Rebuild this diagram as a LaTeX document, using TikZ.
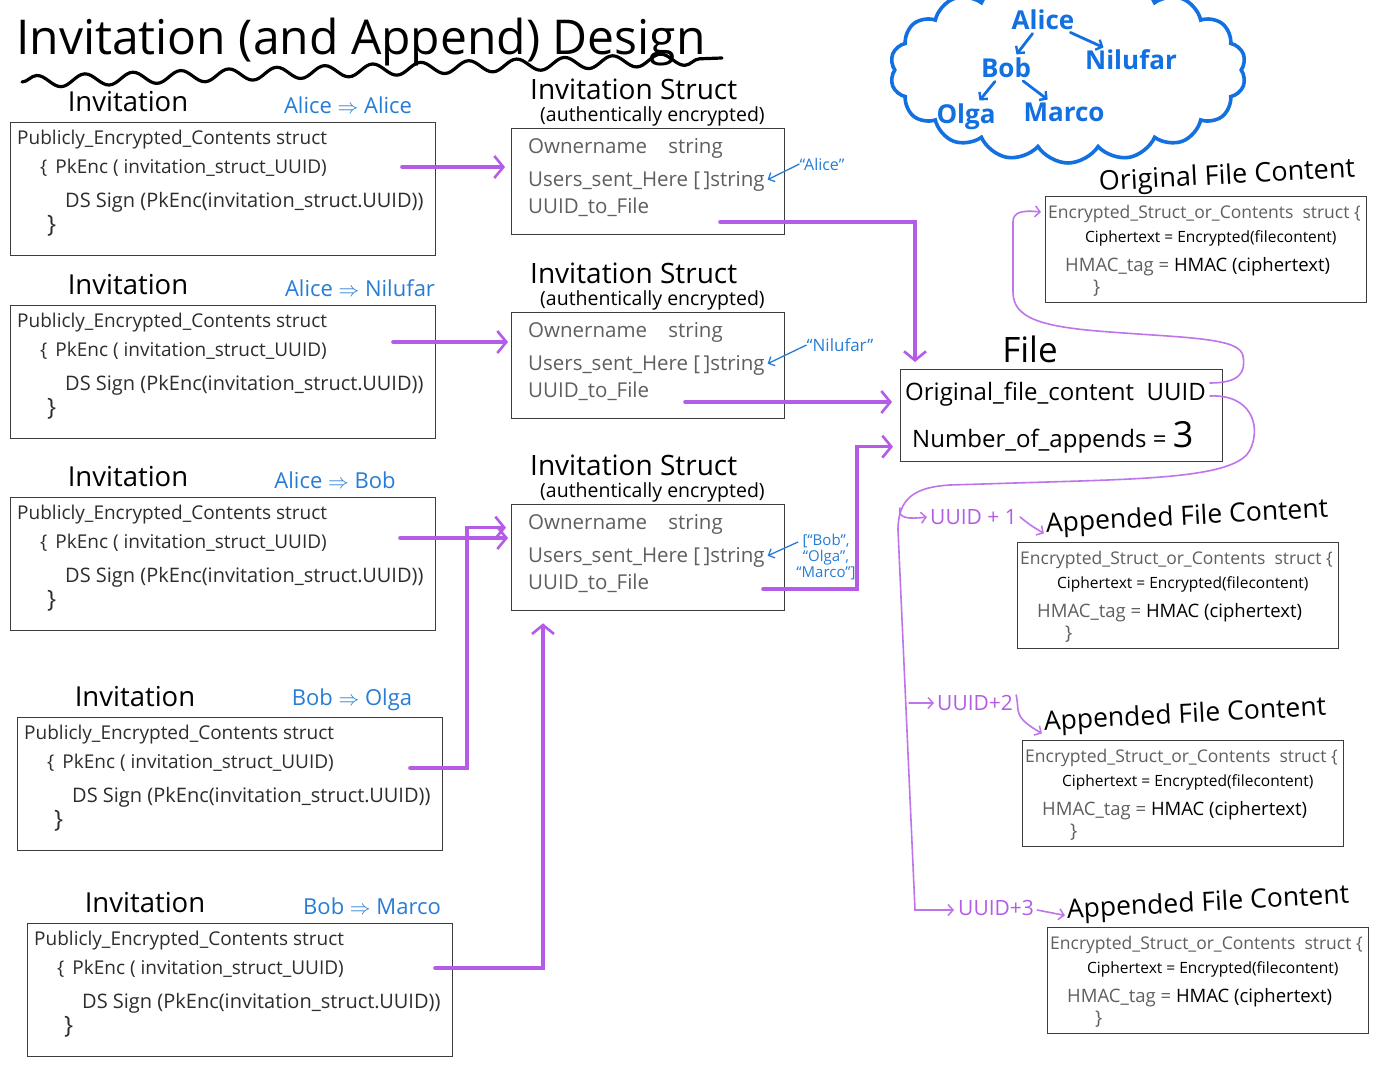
\documentclass[tikz,border=0pt]{standalone}
\usepackage{fontspec}
\setmainfont{Open Sans}
\usetikzlibrary{arrows.meta,shapes.symbols,decorations.pathmorphing,calc}
\definecolor{purp}{RGB}{180,92,232}
\definecolor{blu}{RGB}{38,125,215}
\definecolor{cblu}{RGB}{18,112,225}
\definecolor{gtxt}{RGB}{95,95,95}
\definecolor{dtxt}{RGB}{45,45,45}
\definecolor{boxc}{RGB}{60,60,60}
\newcommand{\fs}[1]{\fontsize{#1}{#1}\selectfont}
\tikzset{
  x=1pt, y=-1pt,
  box/.style={draw=boxc, line width=1.3pt, anchor=north west, inner sep=0pt},
  txt/.style={anchor=west, inner sep=0pt},
  hd/.style={inner sep=0pt, text=black},
  bl/.style={inner sep=0pt, text=blu},
  pl/.style={inner sep=0pt, text=purp},
  plink/.style={draw=purp, line width=3.6pt, line cap=round,
    -{Straight Barb[length=9pt,width=22pt,line width=2.6pt]}},
  pthin/.style={draw=purp!85, line width=1.6pt, line cap=round},
  ptip/.style={-{Straight Barb[length=5pt,width=11pt,line width=1.5pt]}},
  barrow/.style={draw=blu, line width=1.3pt, -{Straight Barb[length=5pt,width=10pt]}},
  carrow/.style={draw=cblu, line width=2.8pt, line cap=round,
    -{Straight Barb[length=5pt,width=11pt,line width=2.4pt]}}
}
\begin{document}
\begin{tikzpicture}
\useasboundingbox (0,0) rectangle (1396,1079);
\fill[white] (0,0) rectangle (1396,1079);

% ---------- title ----------
\node[hd, anchor=west, font=\fs{48}] (title) at (16,42) {Invitation (and Append) Design};
\draw[line width=3.2pt, line cap=round, decorate,
  decoration={snake, amplitude=6pt, segment length=48pt}]
  (22,82) -- (722,58);

% ---------- cloud ----------
\node[cloud, draw=cblu, line width=3.6pt, cloud puffs=18, cloud puff arc=115,
  aspect=2.1, minimum width=356pt, minimum height=186pt] (cloud) at (1068,70) {};
\begin{scope}[font=\fs{26}\bfseries]
\node[inner sep=1pt, text=cblu] (alice) at (1043,20) {Alice};
\node[inner sep=1pt, text=cblu] (bob) at (1006,68) {Bob};
\node[inner sep=1pt, text=cblu] (nil) at (1131,60) {Nilufar};
\node[inner sep=1pt, text=cblu] (olga) at (966,117) {Olga};
\node[inner sep=1pt, text=cblu] (marco) at (1064,112) {Marco};
\end{scope}
\draw[carrow, shorten <=3pt, shorten >=3pt] (alice) -- (bob);
\draw[carrow, shorten <=3pt, shorten >=3pt] (alice) -- (nil);
\draw[carrow, shorten <=3pt, shorten >=3pt] (bob) -- (olga);
\draw[carrow, shorten <=3pt, shorten >=3pt] (bob) -- (marco);

% ---------- invitation boxes ----------
\foreach \n/\bx/\by/\px/\pr in {
  1/10/122/348/{Alice $\Rightarrow$ Alice},
  2/10/305/360/{Alice $\Rightarrow$ Nilufar},
  3/10/497/335/{Alice $\Rightarrow$ Bob},
  4/17/717/352/{Bob $\Rightarrow$ Olga},
  5/27/923/372/{Bob $\Rightarrow$ Marco}}{
  \node[box, minimum width=425pt, minimum height=133pt] (inv\n) at (\bx,\by) {};
  \node[hd, font=\fs{27.5}] (invl\n) at (\bx+118,\by-20) {Invitation};
  \node[bl, font=\fs{22}] (invp\n) at (\px,\by-17) {\pr};
  \node[txt, text=dtxt, font=\fs{19}] (inva\n) at (\bx+7,\by+18) {Publicly\_Encrypted\_Contents struct};
  \node[txt, text=dtxt, font=\fs{19}] (invb\n) at (\bx+30,\by+46) {\{ \,PkEnc ( invitation\_struct\_UUID)};
  \node[txt, text=dtxt, font=\fs{20}] (invc\n) at (\bx+55,\by+80) {DS Sign (PkEnc(invitation\_struct.UUID))};
  \node[txt, text=dtxt, font=\fs{24}] (invd\n) at (\bx+37,\by+104) {\}};
}

% ---------- invitation struct boxes ----------
\foreach \n/\by in {1/128, 2/312, 3/504}{
  \node[box, minimum width=273pt, minimum height=106pt] (st\n) at (511,\by) {};
  \node[hd, txt, font=\fs{28}] (stt\n) at (530,\by-39) {Invitation Struct};
  \node[hd, txt, font=\fs{19.5}] (sts\n) at (540,\by-12) {(authentically encrypted)};
  \node[txt, text=gtxt, font=\fs{20.5}] (sto\n) at (528,\by+20) {Ownername \ \ \ string};
  \node[txt, text=gtxt, font=\fs{20.5}] (stu\n) at (528,\by+53) {Users\_sent\_Here [\,]string};
  \node[txt, text=gtxt, font=\fs{20.5}] (stf\n) at (528,\by+79) {UUID\_to\_File};
}
\node[bl, font=\fs{16}] (an1) at (822,164) {“Alice”};
\node[bl, font=\fs{17}] (an2) at (840,345) {“Nilufar”};
\node[bl, font=\fs{15}, align=center] (an3) at (826,557) {[“Bob”,\\[1pt]“Olga”,\\[1pt]“Marco”]};
\draw[barrow, shorten >=3pt] (an1.west) -- (stu1.east);
\draw[barrow, shorten >=3pt] (an2.west) -- (stu2.east);
\draw[barrow, shorten >=3pt] ($(an3.north west)+(2,8)$) -- (stu3.east);

% ---------- file ----------
\node[box, minimum width=322pt, minimum height=92pt] (file) at (900,369) {};
\node[hd, font=\fs{35}] (filel) at (1030,349) {File};
\node[hd, txt, font=\fs{24}] (frow1) at (905,394) {Original\_file\_content \ UUID};
\node[hd, txt, font=\fs{24}] (frow2) at (912,437) {Number\_of\_appends = {\fs{36}3}};

% ---------- content boxes ----------
\foreach \n/\bx/\by/\tx/\ty/\tt/\tfs in {
  0/1045/196/1227/177/{Original File Content}/27,
  1/1017/542/1187/518/{Appended File Content}/26.5,
  2/1022/740/1185/716/{Appended File Content}/26.5,
  3/1047/927/1208/904/{Appended File Content}/26.5}{
  \node[box, minimum width=321pt, minimum height=106pt] (cb\n) at (\bx,\by) {};
  \node[hd, font=\fs{\tfs}, rotate=3] (cbt\n) at (\tx,\ty) {\tt};
  \node[txt, text=gtxt, font=\fs{17.5}] (cba\n) at (\bx+3,\by+18) {Encrypted\_Struct\_or\_Contents \ struct \{};
  \node[txt, text=black, font=\fs{15.5}] (cbb\n) at (\bx+40,\by+42) {Ciphertext = Encrypted(filecontent)};
  \node[txt, text=gtxt, font=\fs{18.5}] (cbc\n) at (\bx+20,\by+71) {HMAC\_tag = \textcolor{black}{HMAC (ciphertext)}};
  \node[txt, text=gtxt, font=\fs{19}] (cbd\n) at (\bx+48,\by+92) {\}};
}

% ---------- purple connectors ----------
\coordinate (p1) at (402,167);
\coordinate (p2) at (393,342);
\coordinate (p3) at (400,538);
\coordinate (p4) at (410,768);
\coordinate (p5) at (435,968);
\draw[plink, shorten >=6pt] (p1) -- (p1 -| st1.west);
\draw[plink, shorten >=3pt] (p2) -- (p2 -| st2.west);
\draw[plink, shorten >=3pt] (p3) -- (p3 -| st3.west);
\draw[plink, shorten >=5pt] (p4) -- ++(57,0) |- ($(st3.west)+(0,-30)$);
\draw[plink, shorten >=12pt] (p5) -| ($(st3.south west)+(32,0)$);

\coordinate (q1) at (720,222);
\coordinate (q2) at (685,402);
\coordinate (q3) at (763,589);
\draw[plink, shorten >=7pt] (q1) -| ($(file.north west)+(15,0)$);
\draw[plink, shorten >=8pt] (q2) -- (q2 -| file.west);
\draw[plink, shorten >=7pt] (q3) -- ++(94,0) |- ($(file.west)+(0,31)$);

% file -> original content
\draw[pthin, ptip] ($(frow1.east)+(4,-11)$)
  .. controls (1240,383) and (1246,372) .. (1243,356)
  .. controls (1240,338) and (1190,338) .. (1110,332)
  .. controls (1040,327) and (1013,318) .. (1013,292)
  -- (1013,222)
  .. controls (1013,212) and (1022,210) .. ($(cb0.north west)+(-4,16)$);

% file -> appended contents
\node[pl, anchor=west, font=\fs{21}] (uu1) at (930,517) {UUID + 1};
\node[pl, anchor=west, font=\fs{21}] (uu2) at (937,703) {UUID+2};
\node[pl, anchor=west, font=\fs{21}] (uu3) at (958,908) {UUID+3};
\draw[pthin, ptip] ($(frow1.east)+(4,2)$)
  .. controls (1250,394) and (1262,425) .. (1250,450)
  .. controls (1238,474) and (1170,478) .. (1080,481)
  -- (950,485)
  .. controls (915,487) and (898,498) .. (898,530)
  -- (915,910) -- ($(uu3.west)+(-4,2)$);
\coordinate (b1) at (900,508);
\coordinate (b2) at (909,703);
\draw[pthin, ptip] (b1) .. controls (897,519) and (910,519) .. ($(uu1.west)+(-3,0)$);
\draw[pthin, ptip] (b2) -- ($(uu2.west)+(-3,0)$);
\draw[pthin, ptip] ($(uu1.east)+(3,0)$) .. controls (1030,525) .. ($(cbt1.west)+(-2,8)$);
\draw[pthin, ptip] ($(uu2.east)+(3,-8)$) .. controls (1020,712) and (1012,716) .. ($(cbt2.west)+(-2,10)$);
\draw[pthin, ptip] ($(uu3.east)+(3,2)$) -- ($(cbt3.west)+(-2,4)$);
\end{tikzpicture}
\end{document}
